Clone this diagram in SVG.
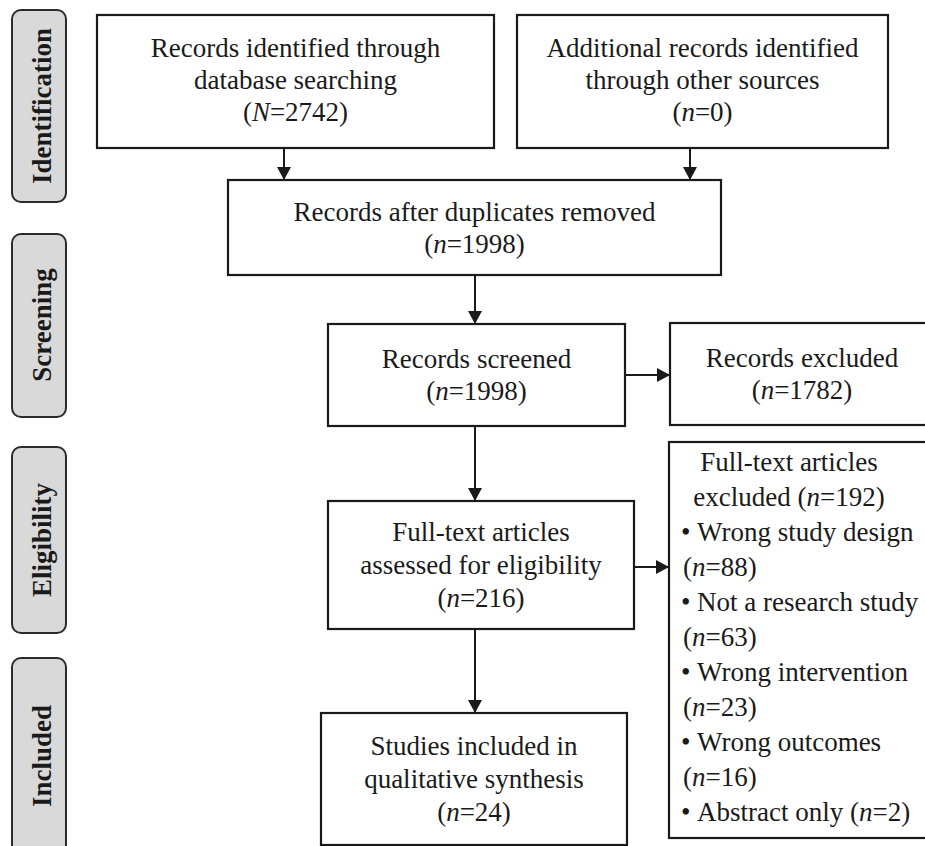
<svg xmlns="http://www.w3.org/2000/svg" width="925" height="846" viewBox="0 0 925 846">
<style>
  .bg { fill: #ffffff; }
  .stage rect { fill: #d9d9d9; stroke: #2b2b2b; stroke-width: 2; }
  .stage text { font-family: "Liberation Serif", "Times New Roman", serif; font-size: 27px; font-weight: bold; fill: #1a1a1a; text-anchor: middle; }
  .node rect { fill: #ffffff; stroke: #1a1a1a; stroke-width: 2.2; }
  .node text { font-family: "Liberation Serif", "Times New Roman", serif; font-size: 27px; fill: #1a1a1a; }
  .c { text-anchor: middle; }
  .i { font-style: italic; }
  .conn line { stroke: #1a1a1a; stroke-width: 2; }
</style>
<defs>
  <marker id="arr" markerUnits="userSpaceOnUse" markerWidth="14" markerHeight="14" refX="13" refY="7" orient="auto">
    <path d="M0,0 L13,7 L0,14 Z" fill="#1a1a1a"/>
  </marker>
</defs>
<rect class="bg" x="0" y="0" width="925" height="846"/>

<g id="stage-identification" class="stage">
  <rect x="12" y="10" width="54" height="192" rx="9"/>
  <text transform="translate(51,106) rotate(-90)">Identification</text>
</g>
<g id="stage-screening" class="stage">
  <rect x="12" y="234" width="54" height="183" rx="9"/>
  <text transform="translate(51,325) rotate(-90)">Screening</text>
</g>
<g id="stage-eligibility" class="stage">
  <rect x="12" y="447" width="54" height="186" rx="9"/>
  <text transform="translate(51,540) rotate(-90)">Eligibility</text>
</g>
<g id="stage-included" class="stage">
  <rect x="12" y="658" width="54" height="198" rx="9"/>
  <text transform="translate(51,756) rotate(-90)">Included</text>
</g>

<g id="connectors" class="conn">
  <line x1="284" y1="148" x2="284" y2="180" marker-end="url(#arr)"/>
  <line x1="690" y1="148" x2="690" y2="180" marker-end="url(#arr)"/>
  <line x1="475" y1="275" x2="475" y2="324" marker-end="url(#arr)"/>
  <line x1="625" y1="375" x2="670" y2="375" marker-end="url(#arr)"/>
  <line x1="475" y1="426" x2="475" y2="501" marker-end="url(#arr)"/>
  <line x1="634" y1="567" x2="669" y2="567" marker-end="url(#arr)"/>
  <line x1="475" y1="629" x2="475" y2="713" marker-end="url(#arr)"/>
</g>

<g id="node-database" class="node">
  <rect x="97" y="15" width="397" height="133"/>
  <text class="c" x="295.5" y="57">Records identified through</text>
  <text class="c" x="295.5" y="89">database searching</text>
  <text class="c" x="295.5" y="121">(<tspan class="i">N</tspan>=2742)</text>
</g>
<g id="node-other" class="node">
  <rect x="517" y="15" width="371" height="133"/>
  <text class="c" x="702.5" y="57">Additional records identified</text>
  <text class="c" x="702.5" y="89">through other sources</text>
  <text class="c" x="702.5" y="121">(<tspan class="i">n</tspan>=0)</text>
</g>
<g id="node-duplicates" class="node">
  <rect x="228" y="180" width="493" height="95"/>
  <text class="c" x="474.5" y="221">Records after duplicates removed</text>
  <text class="c" x="474.5" y="253">(<tspan class="i">n</tspan>=1998)</text>
</g>
<g id="node-screened" class="node">
  <rect x="328" y="324" width="297" height="102"/>
  <text class="c" x="476.5" y="368">Records screened</text>
  <text class="c" x="476.5" y="400">(<tspan class="i">n</tspan>=1998)</text>
</g>
<g id="node-excluded" class="node">
  <rect x="670" y="323" width="264" height="102"/>
  <text class="c" x="802" y="367">Records excluded</text>
  <text class="c" x="802" y="399">(<tspan class="i">n</tspan>=1782)</text>
</g>
<g id="node-fulltext" class="node">
  <rect x="328" y="501" width="306" height="128"/>
  <text class="c" x="481" y="541">Full-text articles</text>
  <text class="c" x="481" y="574">assessed for eligibility</text>
  <text class="c" x="481" y="607">(<tspan class="i">n</tspan>=216)</text>
</g>
<g id="node-fulltext-excluded" class="node">
  <rect x="669" y="442" width="266" height="396"/>
  <text class="c" x="789" y="471">Full-text articles</text>
  <text class="c" x="789" y="506">excluded (<tspan class="i">n</tspan>=192)</text>
  <text x="681" y="541">•</text><text x="697" y="541">Wrong study design</text>
  <text x="683" y="576">(<tspan class="i">n</tspan>=88)</text>
  <text x="681" y="611">•</text><text x="697" y="611">Not a research study</text>
  <text x="683" y="646">(<tspan class="i">n</tspan>=63)</text>
  <text x="681" y="681">•</text><text x="697" y="681">Wrong intervention</text>
  <text x="683" y="716">(<tspan class="i">n</tspan>=23)</text>
  <text x="681" y="751">•</text><text x="697" y="751">Wrong outcomes</text>
  <text x="683" y="786">(<tspan class="i">n</tspan>=16)</text>
  <text x="681" y="821">•</text><text x="697" y="821">Abstract only (<tspan class="i">n</tspan>=2)</text>
</g>
<g id="node-included" class="node">
  <rect x="321" y="713" width="306" height="132"/>
  <text class="c" x="474" y="755">Studies included in</text>
  <text class="c" x="474" y="788">qualitative synthesis</text>
  <text class="c" x="474" y="821">(<tspan class="i">n</tspan>=24)</text>
</g>
</svg>
